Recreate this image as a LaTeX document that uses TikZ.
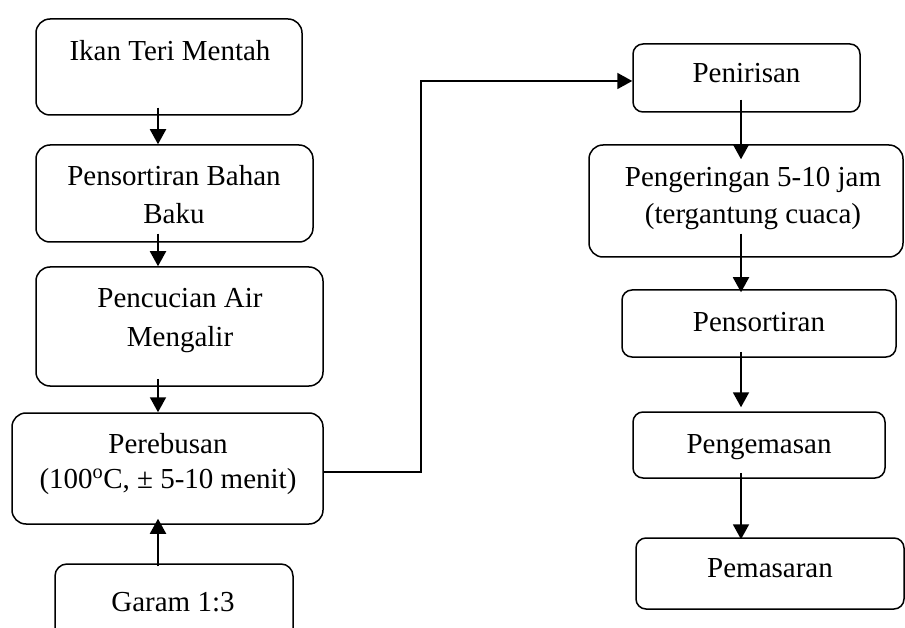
\documentclass[tikz,border=0pt]{standalone}
\usepackage{fontspec}
\setmainfont{Liberation Serif}
\usetikzlibrary{arrows.meta,calc}
\begin{document}
\begin{tikzpicture}[x=1pt,y=-1pt,
  box/.style n args={3}{draw, line width=1.5pt, rounded corners=#3, minimum width=#1, minimum height=#2, inner sep=0pt},
  txt/.style={anchor=base, inner sep=0pt, font=\fontsize{29pt}{36pt}\selectfont},
  arr/.style={line width=1.9pt, -{Triangle[length=15pt,width=16pt]}}
]
\clip (0,0) rectangle (905,628);
% left column boxes
\node[box={266pt}{96pt}{14pt}] (b1) at (169,67) {};
\node[box={277pt}{97pt}{14pt}] (b2) at (174.5,193.5) {};
\node[box={287pt}{119pt}{14pt}] (b3) at (179.5,326.5) {};
\node[box={311pt}{111pt}{14pt}] (b4) at (167.5,468.5) {};
\node[box={238pt}{96pt}{12pt}] (b5) at (174,612) {};
% right column boxes
\node[box={227pt}{68pt}{10pt}] (b6) at (746.5,78) {};
\node[box={314pt}{112pt}{14pt}] (b7) at (746,201) {};
\node[box={274pt}{67pt}{10pt}] (b8) at (759,323.5) {};
\node[box={252pt}{66pt}{10pt}] (b9) at (759,445) {};
\node[box={268pt}{71pt}{10pt}] (b10) at (770,573.5) {};
% texts
\node[txt] (t1) at (170,61) {Ikan Teri Mentah};
\node[txt] (t2a) at (174,186) {Pensortiran Bahan};
\node[txt] (t2b) at (174,224) {Baku};
\node[txt] (t3a) at (180,308) {Pencucian Air};
\node[txt] (t3b) at (180,347) {Mengalir};
\node[txt] (t4a) at (168,453) {Perebusan};
\node[txt] (t4b) at (168,488) {(100\textsuperscript{o}C, ± 5-10 menit)};
\node[txt] (t5) at (173,611) {Garam 1:3};
\node[txt] (t6) at (746.5,83) {Penirisan};
\node[txt] (t7a) at (753,187) {Pengeringan 5-10 jam};
\node[txt] (t7b) at (753,224) {(tergantung cuaca)};
\node[txt] (t8) at (759,331) {Pensortiran};
\node[txt] (t9) at (759,453) {Pengemasan};
\node[txt] (t10) at (770,577) {Pemasaran};
% columns
\coordinate (cL) at (158,0);
\coordinate (cR) at (741,0);
\coordinate (cE) at (421,0);
% left arrows
\draw[arr] ($(b1.south -| cL)+(0,-8)$) -- (b2.north -| cL);
\draw[arr] ($(b2.south -| cL)+(0,-9)$) -- (b3.north -| cL);
\draw[arr] ($(b3.south -| cL)+(0,-8)$) -- (b4.north -| cL);
\draw[arr] ($(b5.north -| cL)+(0,3)$) -- ($(b4.south -| cL)+(0,-6)$);
% elbow connector
\coordinate (e0) at ($(b4.east)+(0,3.5)$);
\coordinate (e3) at ($(b6.west)+(0,3)$);
\draw[arr] (e0) -- (e0 -| cE) -- (e3 -| cE) -- (e3);
% right arrows
\draw[arr] ($(b6.south -| cR)+(0,-13)$) -- ($(b7.north -| cR)+(0,15)$);
\draw[arr] ($(b7.south -| cR)+(0,-24)$) -- ($(b8.north -| cR)+(0,3)$);
\draw[arr] ($(b8.south -| cR)+(0,-6)$) -- ($(b9.north -| cR)+(0,-4)$);
\draw[arr] ($(b9.south -| cR)+(0,-6)$) -- ($(b10.north -| cR)+(0,2)$);
\end{tikzpicture}
\end{document}
